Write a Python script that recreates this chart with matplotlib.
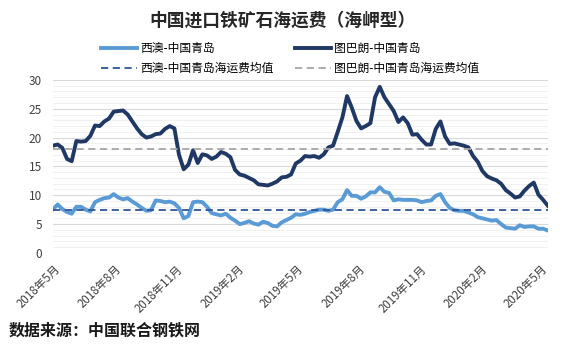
import numpy as np
import pandas as pd
import matplotlib
matplotlib.use('Agg')
import matplotlib.pyplot as plt
import matplotlib.dates as mdates
from matplotlib.ticker import MultipleLocator

plt.rcParams['font.family'] = ['Noto Sans CJK SC', 'DejaVu Sans']

# weekly Capesize freight, USD/t
dates = pd.date_range('2018-04-30', periods=107, freq='7D')

wa_qd = [7.6, 8.4, 7.6, 7.1, 6.8, 8.0, 8.0, 7.5, 7.2, 8.8,
         9.2, 9.5, 9.6, 10.2, 9.6, 9.3, 9.5, 8.9, 8.4, 7.8,
         7.3, 7.4, 9.1, 9.0, 8.8, 8.9, 8.6, 7.8, 6.0, 6.4,
         8.8, 8.9, 8.8, 8.0, 6.9, 6.7, 6.5, 6.8, 6.1, 5.6,
         5.0, 5.2, 5.5, 5.1, 4.9, 5.4, 5.2, 4.7, 4.6, 5.3,
         5.7, 6.1, 6.7, 6.6, 6.8, 7.1, 7.3, 7.5, 7.5, 7.3,
         7.5, 8.8, 9.3, 10.9, 9.9, 9.9, 9.4, 9.8, 10.5, 10.5,
         11.4, 10.6, 10.4, 9.1, 9.3, 9.2, 9.2, 9.2, 9.1, 8.8,
         9.0, 9.1, 9.9, 10.2, 8.8, 7.8, 7.4, 7.3, 7.3, 7.0,
         6.7, 6.2, 6.0, 5.8, 5.6, 5.7, 5.0, 4.4, 4.3, 4.2,
         4.8, 4.5, 4.6, 4.6, 4.2, 4.2, 3.9]

tb_qd = [18.6, 18.8, 18.2, 16.3, 15.9, 19.4, 19.3, 19.4, 20.3, 22.1,
         22.0, 22.8, 23.3, 24.5, 24.6, 24.7, 24.0, 22.8, 21.6, 20.6,
         20.0, 20.2, 20.6, 20.7, 21.5, 22.0, 21.6, 17.0, 14.5, 15.3,
         17.8, 15.6, 17.1, 16.9, 16.3, 16.7, 17.5, 17.2, 16.6, 14.4,
         13.6, 13.4, 13.0, 12.6, 11.9, 11.8, 11.7, 12.0, 12.4, 13.1,
         13.2, 13.6, 15.5, 16.0, 16.8, 16.7, 16.8, 16.5, 17.1, 18.3,
         18.6, 21.0, 23.5, 27.2, 25.2, 22.9, 21.6, 22.0, 22.5, 27.0,
         28.8, 27.0, 25.8, 24.6, 22.7, 23.5, 22.5, 20.5, 20.6, 19.6,
         18.8, 18.8, 21.5, 22.8, 20.2, 18.9, 19.0, 18.8, 18.6, 18.3,
         16.8, 15.8, 14.2, 13.3, 12.9, 12.6, 12.0, 10.9, 10.3, 9.6,
         9.8, 10.8, 11.6, 12.2, 10.1, 9.2, 8.2]

wa_mean = 7.4
tb_mean = 18.1

tick_dates = pd.date_range('2018-05-01', '2020-05-01', freq='3MS')
tick_labels = [f'{d.year}年{d.month}月' for d in tick_dates]

fig = plt.figure(figsize=(5.7, 3.46), dpi=100)
ax = fig.add_axes([0.093, 0.269, 0.868, 0.5])

l1, = ax.plot(dates, wa_qd, color='#5B9BD5', lw=2.8, label='西澳-中国青岛')
l2, = ax.plot(dates, tb_qd, color='#203864', lw=2.8, label='图巴朗-中国青岛')
l3 = ax.axhline(wa_mean, color='#2F5597', lw=1.3, ls=(0, (4, 2.5)), label='西澳-中国青岛海运费均值')
l4 = ax.axhline(tb_mean, color='#A6A6A6', lw=1.3, ls=(0, (4, 2.5)), label='图巴朗-中国青岛海运费均值')

ax.set_xlim(dates[0], dates[-1])
ax.set_ylim(0, 30)
ax.yaxis.set_major_locator(MultipleLocator(5))
ax.yaxis.set_minor_locator(MultipleLocator(1))
ax.grid(which='major', axis='y', color='#D9D9D9', lw=0.8)
ax.grid(which='minor', axis='y', color='#EFEFEF', lw=0.6)
ax.set_axisbelow(True)
for s in ax.spines.values():
    s.set_visible(False)
ax.tick_params(which='both', length=0)
ax.tick_params(axis='y', labelsize=8.5, labelcolor='#404040', pad=8)
ax.tick_params(axis='x', pad=7)

ax.set_xticks(tick_dates)
ax.set_xticklabels(tick_labels, rotation=45, ha='right', rotation_mode='anchor',
                   fontsize=8.3, color='#404040')

fig.text(0.495, 0.94, '中国进口铁矿石海运费（海岬型）', ha='center', va='center',
         fontsize=12.8, fontweight='bold', color='#262626')
fig.legend(handles=[l1, l3, l2, l4], ncol=2, loc='center', bbox_to_anchor=(0.509, 0.831),
           frameon=False, fontsize=8.5, handlelength=3.1, columnspacing=1.8,
           labelspacing=0.55, handletextpad=0.25)
fig.text(0.016, 0.045, '数据来源：中国联合钢铁网', ha='left', va='center',
         fontsize=11.5, fontweight='bold', color='#1a1a1a')

fig.savefig('out.png', dpi=100, facecolor='white')
